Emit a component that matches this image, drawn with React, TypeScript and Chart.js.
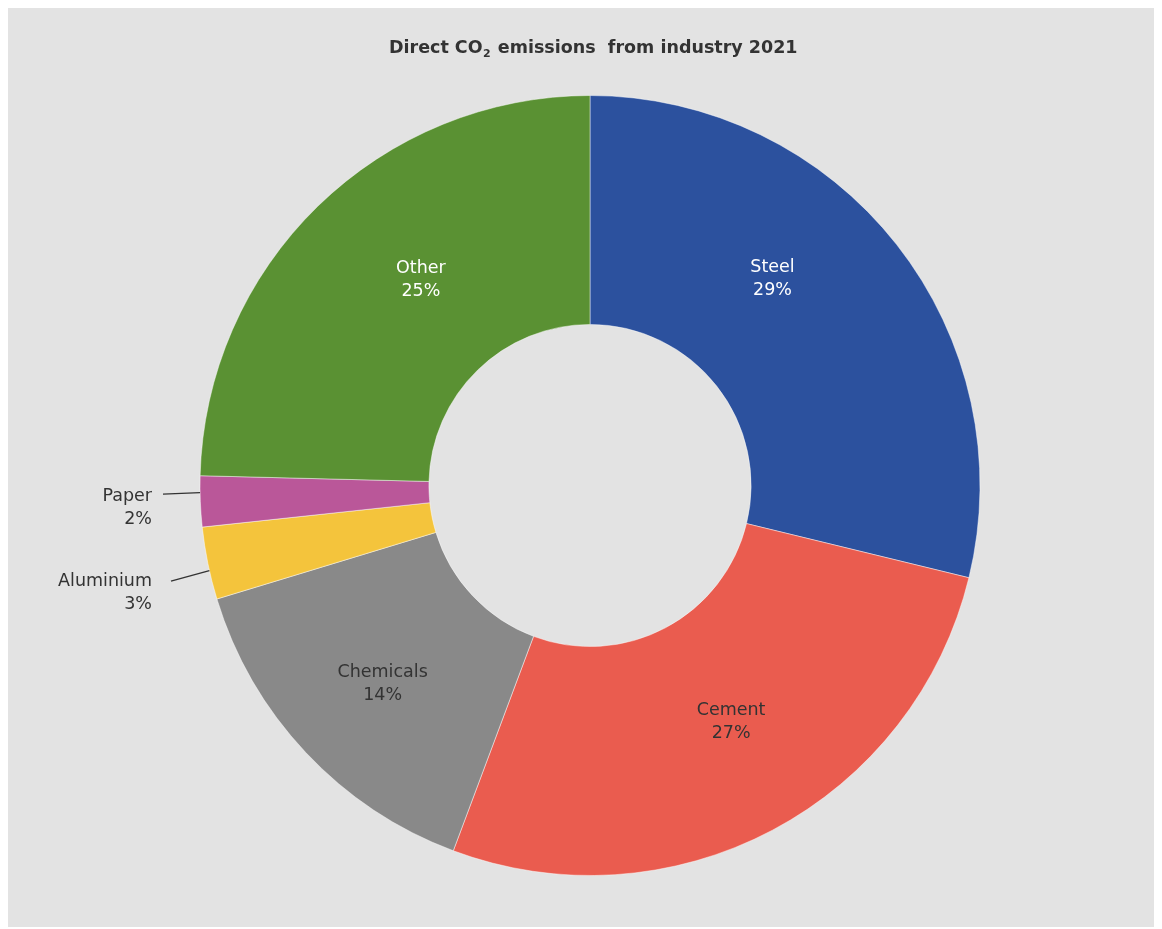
import React, { useEffect, useRef } from "react";
import { Chart, registerables } from "chart.js";

Chart.register(...registerables);

const titleParts = ["Direct CO", "2", " emissions  from industry 2021"];
const categories = ["Steel", "Cement", "Chemicals", "Aluminium", "Paper", "Other"];
const shares = [28.8, 26.9, 14.6, 3.0, 2.1, 24.6];
const shareLabels = ["29%", "27%", "14%", "3%", "2%", "25%"];
const sliceColors = ["#2c519e", "#ea5c4f", "#898989", "#f4c43c", "#ba5799", "#5a9133"];
const labelColors = ["#ffffff", "#333333", "#333333", "#333333", "#333333", "#ffffff"];
// where along each slice (0 = start, 1 = end) its label or leader line sits
const labelAngleFractions = [0.4, 0.47, 0.49, 0.4, 0.67, 0.555];
// where across the ring (0 = inner edge, 1 = outer edge) each inside label sits
const labelRadiusFractions = [0.5, 0.5, 0.55, 1, 1, 0.46];

const FONT = "'DejaVu Sans', Verdana, sans-serif";

const titlePlugin = {
  id: "customTitle",
  afterDraw(chart: any) {
    const ctx = chart.ctx as CanvasRenderingContext2D;
    ctx.save();
    ctx.fillStyle = "#333333";
    ctx.textBaseline = "alphabetic";
    ctx.textAlign = "left";
    const big = `bold 17.5px ${FONT}`;
    const small = `bold 11px ${FONT}`;
    ctx.font = big;
    const w0 = ctx.measureText(titleParts[0]).width;
    const w2 = ctx.measureText(titleParts[2]).width;
    ctx.font = small;
    const w1 = ctx.measureText(titleParts[1]).width + 1;
    const total = w0 + w1 + w2;
    let x = chart.width / 2 - total / 2 + 8;
    const y = 45;
    ctx.font = big;
    ctx.fillText(titleParts[0], x, y);
    x += w0 + 0.5;
    ctx.font = small;
    ctx.fillText(titleParts[1], x, y + 4);
    x += w1;
    ctx.font = big;
    ctx.fillText(titleParts[2], x, y);
    ctx.restore();
  },
};

const labelPlugin = {
  id: "sliceLabels",
  afterDatasetsDraw(chart: any) {
    const ctx = chart.ctx as CanvasRenderingContext2D;
    const meta = chart.getDatasetMeta(0);
    ctx.save();
    ctx.font = `17.5px ${FONT}`;
    ctx.textBaseline = "middle";
    const outside: { i: number; ex: number; ey: number }[] = [];
    meta.data.forEach((arc: any, i: number) => {
      const p = arc.getProps(["x", "y", "startAngle", "endAngle", "innerRadius", "outerRadius"], true);
      const ang = p.startAngle + (p.endAngle - p.startAngle) * labelAngleFractions[i];
      const frac = (p.endAngle - p.startAngle) / (2 * Math.PI);
      if (frac > 0.05) {
        const r = p.innerRadius + (p.outerRadius - p.innerRadius) * labelRadiusFractions[i];
        const x = p.x + Math.cos(ang) * r;
        const y = p.y + Math.sin(ang) * r;
        ctx.fillStyle = labelColors[i];
        ctx.textAlign = "center";
        ctx.fillText(categories[i], x, y - 11.5);
        ctx.fillText(shareLabels[i], x, y + 11.5);
      } else {
        outside.push({
          i,
          ex: p.x + Math.cos(ang) * p.outerRadius,
          ey: p.y + Math.sin(ang) * p.outerRadius,
        });
      }
    });
    outside.sort((a, b) => a.ey - b.ey);
    const mean = outside.reduce((s, o) => s + o.ey, 0) / Math.max(outside.length, 1);
    const gap = 85;
    outside.forEach((o, k) => {
      const ty = mean + 7 + (k - (outside.length - 1) / 2) * gap;
      const textRight = 144;
      ctx.strokeStyle = "#333333";
      ctx.lineWidth = 1.3;
      ctx.beginPath();
      ctx.moveTo(textRight + 11 + k * 8, ty - 2 + k * 2);
      ctx.lineTo(o.ex, o.ey);
      ctx.stroke();
      ctx.fillStyle = "#333333";
      ctx.textAlign = "right";
      ctx.fillText(categories[o.i], textRight, ty);
      ctx.fillText(shareLabels[o.i], textRight, ty + 23);
    });
    ctx.restore();
  },
};

export default function App() {
  const ref = useRef<HTMLCanvasElement | null>(null);
  useEffect(() => {
    if (!ref.current) return;
    const chart = new Chart(ref.current, {
      type: "doughnut",
      data: {
        labels: categories,
        datasets: [
          {
            data: shares,
            backgroundColor: sliceColors,
            borderColor: "rgba(255,255,255,0.45)",
            borderWidth: 1,
            hoverOffset: 0,
          },
        ],
      },
      options: {
        responsive: false,
        animation: false,
        cutout: "41.3%",
        layout: { padding: { left: 191.5, right: 181.5, top: 87, bottom: 51 } },
        plugins: {
          legend: { display: false },
          title: { display: false },
          tooltip: { enabled: false },
        },
      },
      plugins: [titlePlugin, labelPlugin],
    });
    return () => chart.destroy();
  }, []);
  return (
    <div style={{ width: 1154, height: 919, background: "#e3e3e3" }}>
      <canvas ref={ref} width={1154} height={919} style={{ display: "block" }} />
    </div>
  );
}
